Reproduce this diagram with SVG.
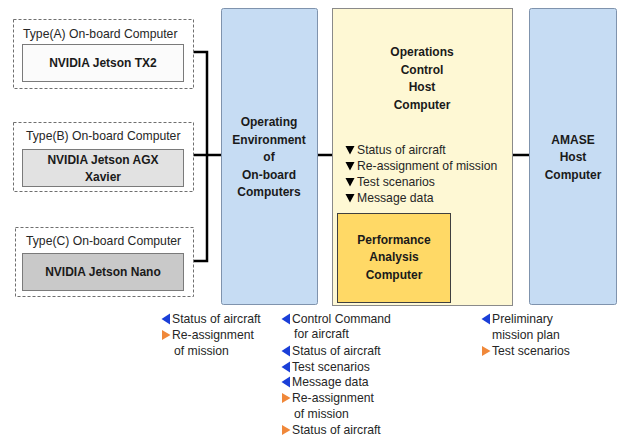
<svg xmlns="http://www.w3.org/2000/svg" xmlns:xlink="http://www.w3.org/1999/xlink" width="618" height="438" viewBox="0 0 618 438">
  <style>
    .bg { fill: #ffffff; }
    .group { fill: #ffffff; stroke: #6f6f6f; stroke-width: 1; stroke-dasharray: 3 2; }
    .board { stroke: #7a7a7a; stroke-width: 1; }
    .blue { fill: #c6dcf3; stroke: #7f93ad; stroke-width: 1; }
    .host { fill: #fef8d4; stroke: #8a8a8a; stroke-width: 1; }
    .perf { fill: #ffd966; stroke: #3f3f3f; stroke-width: 1; }
    .link { fill: none; stroke: #000000; stroke-width: 2.5; }
    .label { font-family: "Liberation Sans", Arial, sans-serif; font-size: 12.2px; fill: #262626; }
    .title { font-family: "Liberation Sans", Arial, sans-serif; font-size: 12px; font-weight: bold; fill: #1a1a1a; text-anchor: middle; }
    .item { font-family: "Liberation Sans", Arial, sans-serif; font-size: 12.2px; fill: #262626; }
    .down { fill: #000000; }
    .left { fill: #1a3fd8; }
    .right { fill: #f0883a; }
  </style>
  <defs>
    <polygon id="tri-down" points="-4.5,-4 4.5,-4 0,4.5"/>
    <polygon id="tri-left" points="4,-5.5 4,5.5 -4.5,0"/>
    <polygon id="tri-right" points="-4,-5 -4,5 4.5,0"/>
  </defs>

  <rect class="bg" x="0" y="0" width="618" height="438"/>

  <!-- connectors -->
  <g id="connectors">
    <polyline class="link" points="193,52 207,52 207,261 193,261"/>
    <line class="link" x1="193" y1="155" x2="221" y2="155"/>
    <line class="link" x1="317" y1="155" x2="332" y2="155"/>
    <line class="link" x1="512" y1="155" x2="529" y2="155"/>
  </g>

  <!-- on-board computers -->
  <g id="type-a">
    <rect class="group" x="13.5" y="19.5" width="180" height="69"/>
    <text class="label" x="23" y="38">Type(A) On-board Computer</text>
    <rect class="board" x="22.5" y="44.5" width="161" height="37" fill="#fbfbfb"/>
    <text class="title" x="103" y="67">NVIDIA Jetson TX2</text>
  </g>
  <g id="type-b">
    <rect class="group" x="13.5" y="122.5" width="180" height="69"/>
    <text class="label" x="26" y="140">Type(B) On-board Computer</text>
    <rect class="board" x="22.5" y="149.5" width="161" height="37" fill="#e2e2e2"/>
    <text class="title" x="103" y="164">NVIDIA Jetson AGX</text>
    <text class="title" x="103" y="181">Xavier</text>
  </g>
  <g id="type-c">
    <rect class="group" x="15.5" y="227.5" width="178" height="69"/>
    <text class="label" x="26" y="245">Type(C) On-board Computer</text>
    <rect class="board" x="22.5" y="253.5" width="161" height="37" fill="#c9c9c9"/>
    <text class="title" x="103" y="276">NVIDIA Jetson Nano</text>
  </g>

  <!-- operating environment -->
  <g id="operating-env">
    <rect class="blue" x="221.5" y="8.5" width="96" height="296" rx="2"/>
    <text class="title" x="269" y="126">Operating</text>
    <text class="title" x="269" y="144">Environment</text>
    <text class="title" x="269" y="161">of</text>
    <text class="title" x="269" y="179">On-board</text>
    <text class="title" x="269" y="196">Computers</text>
  </g>

  <!-- operations control host -->
  <g id="ops-host">
    <rect class="host" x="332.5" y="8.5" width="180" height="297"/>
    <text class="title" x="422" y="56">Operations</text>
    <text class="title" x="422" y="74">Control</text>
    <text class="title" x="422" y="91">Host</text>
    <text class="title" x="422" y="109">Computer</text>
    <use class="down" xlink:href="#tri-down" x="350" y="150"/>
    <text class="item" x="357" y="154">Status of aircraft</text>
    <use class="down" xlink:href="#tri-down" x="350" y="166"/>
    <text class="item" x="357" y="170">Re-assignment of mission</text>
    <use class="down" xlink:href="#tri-down" x="350" y="182"/>
    <text class="item" x="357" y="186">Test scenarios</text>
    <use class="down" xlink:href="#tri-down" x="350" y="198"/>
    <text class="item" x="357" y="202">Message data</text>
  </g>

  <g id="perf-analysis">
    <rect class="perf" x="337.5" y="213.5" width="113" height="89"/>
    <text class="title" x="394" y="244">Performance</text>
    <text class="title" x="394" y="261">Analysis</text>
    <text class="title" x="394" y="279">Computer</text>
  </g>

  <!-- AMASE host -->
  <g id="amase-host">
    <rect class="blue" x="529.5" y="8.5" width="87" height="296" rx="2"/>
    <text class="title" x="573" y="144">AMASE</text>
    <text class="title" x="573" y="161">Host</text>
    <text class="title" x="573" y="179">Computer</text>
  </g>

  <!-- message lists -->
  <g id="msgs-onboard">
    <use class="left" xlink:href="#tri-left" x="166" y="319"/>
    <text class="item" x="172" y="323">Status of aircraft</text>
    <use class="right" xlink:href="#tri-right" x="166" y="335"/>
    <text class="item" x="172" y="339">Re-assignment</text>
    <text class="item" x="174" y="355">of mission</text>
  </g>
  <g id="msgs-env">
    <use class="left" xlink:href="#tri-left" x="286" y="319"/>
    <text class="item" x="292" y="323">Control Command</text>
    <text class="item" x="294" y="338">for aircraft</text>
    <use class="left" xlink:href="#tri-left" x="286" y="351"/>
    <text class="item" x="292" y="355">Status of aircraft</text>
    <use class="left" xlink:href="#tri-left" x="286" y="367"/>
    <text class="item" x="292" y="371">Test scenarios</text>
    <use class="left" xlink:href="#tri-left" x="286" y="382"/>
    <text class="item" x="292" y="386">Message data</text>
    <use class="right" xlink:href="#tri-right" x="286" y="398"/>
    <text class="item" x="292" y="402">Re-assignment</text>
    <text class="item" x="294" y="418">of mission</text>
    <use class="right" xlink:href="#tri-right" x="286" y="430"/>
    <text class="item" x="292" y="434">Status of aircraft</text>
  </g>
  <g id="msgs-amase">
    <use class="left" xlink:href="#tri-left" x="486" y="319"/>
    <text class="item" x="492" y="323">Preliminary</text>
    <text class="item" x="492" y="339">mission plan</text>
    <use class="right" xlink:href="#tri-right" x="486" y="351"/>
    <text class="item" x="492" y="355">Test scenarios</text>
  </g>
</svg>
